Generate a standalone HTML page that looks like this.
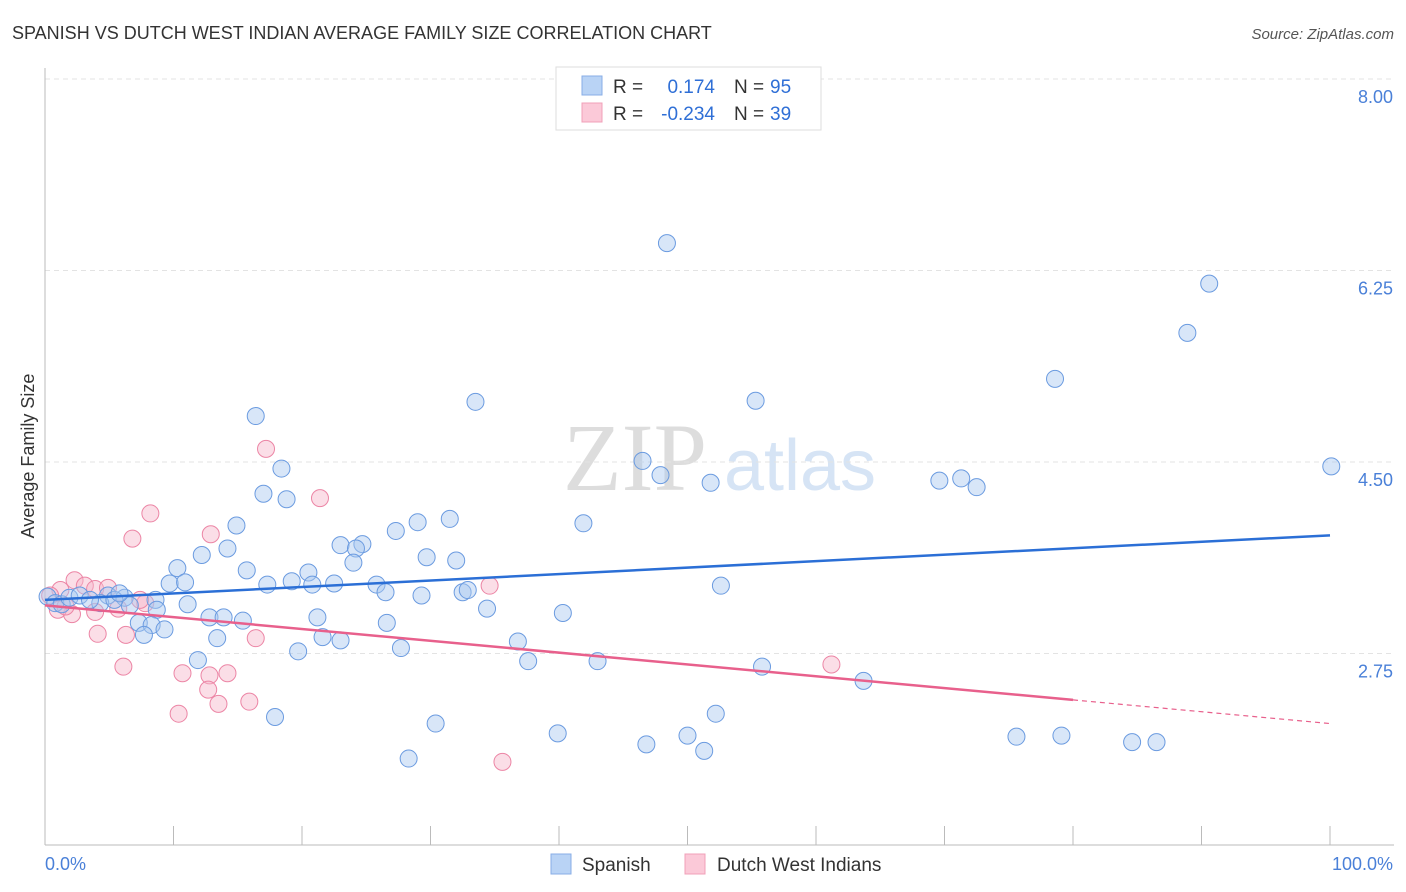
<!DOCTYPE html>
<html><head><meta charset="utf-8"><style>
body{margin:0;background:#fff;font-family:"Liberation Sans",sans-serif;}
svg{display:block}
</style></head><body>
<svg id="chart" width="1406" height="892">
<text x="12" y="39" font-size="18" fill="#333">SPANISH VS DUTCH WEST INDIAN AVERAGE FAMILY SIZE CORRELATION CHART</text>
<text x="1394" y="39" font-size="15" fill="#555" font-style="italic" text-anchor="end">Source: ZipAtlas.com</text>
<text x="34" y="456" font-size="18" fill="#333" text-anchor="middle" transform="rotate(-90 34 456)">Average Family Size</text>
<g><text x="635" y="490" font-size="96" fill="#ddd" font-family="Liberation Serif,serif" text-anchor="middle">ZIP</text><text x="800" y="490" font-size="72" fill="#d6e4f5" text-anchor="middle">atlas</text></g>
<g id="grid"></g><g id="marks"></g>
<g>
<rect x="556" y="67" width="265" height="63" fill="#fff" stroke="#ddd"/>
<rect x="582" y="76" width="20" height="19" fill="#b9d3f5" stroke="#88aee6"/>
<rect x="582" y="103" width="20" height="19" fill="#fbc9d8" stroke="#f0a0b8"/>
<text x="613" y="93" font-size="19" fill="#333">R = </text><text x="715" y="93" font-size="19" fill="#2f6fd6" text-anchor="end">0.174</text>
<text x="734" y="93" font-size="19" fill="#333">N = </text><text x="770" y="93" font-size="19" fill="#2f6fd6">95</text>
<text x="613" y="120" font-size="19" fill="#333">R = </text><text x="715" y="120" font-size="19" fill="#2f6fd6" text-anchor="end">-0.234</text>
<text x="734" y="120" font-size="19" fill="#333">N = </text><text x="770" y="120" font-size="19" fill="#2f6fd6">39</text>
</g>
<g>
<rect x="551" y="854" width="20" height="20" fill="#b9d3f5" stroke="#88aee6"/><text x="582" y="871" font-size="19" fill="#333">Spanish</text>
<rect x="685" y="854" width="20" height="20" fill="#fbc9d8" stroke="#f0a0b8"/><text x="717" y="871" font-size="19" fill="#333">Dutch West Indians</text>
</g>
<text x="45" y="870" font-size="18" fill="#4a80d8">0.0%</text>
<text x="1393" y="870" font-size="18" fill="#4a80d8" text-anchor="end">100.0%</text>
</svg>
<script>
const yTicks=[8.00,6.25,4.50,2.75];
const blueX=[48.4,90.6,88.9,78.6,33.5,55.3,16.4,46.5,100.1,47.9,18.4,51.8,69.6,71.3,72.5,17.0,18.8,14.9,29.0,31.5,41.9,27.3,14.2,12.2,23.0,24.7,24.2,24.0,29.7,32.0,10.3,15.7,20.5,9.7,10.9,17.3,19.2,22.5,20.8,25.8,26.5,29.3,32.5,32.9,52.6,34.4,40.3,4.9,6.2,8.6,11.1,4.3,6.6,8.7,12.8,13.9,15.4,21.2,26.6,7.3,8.3,9.3,7.7,13.4,21.6,23.0,36.8,19.7,27.7,11.9,37.6,43.0,55.8,63.7,17.9,30.4,52.2,39.9,50.0,46.8,51.3,28.3,75.6,79.1,84.6,86.5,0.2,0.8,1.3,1.9,2.7,3.5,5.4,5.8];
const blueY=[6.50,6.13,5.68,5.26,5.05,5.06,4.92,4.51,4.46,4.38,4.44,4.31,4.33,4.35,4.27,4.21,4.16,3.92,3.95,3.98,3.94,3.87,3.71,3.65,3.74,3.75,3.71,3.58,3.63,3.60,3.53,3.51,3.49,3.39,3.40,3.38,3.41,3.39,3.38,3.38,3.31,3.28,3.31,3.33,3.37,3.16,3.12,3.28,3.26,3.24,3.20,3.21,3.19,3.15,3.08,3.08,3.05,3.08,3.03,3.03,3.01,2.97,2.92,2.89,2.90,2.87,2.86,2.77,2.80,2.69,2.68,2.68,2.63,2.50,2.17,2.11,2.20,2.02,2.00,1.92,1.86,1.79,1.99,2.00,1.94,1.94,3.27,3.21,3.20,3.26,3.28,3.24,3.24,3.30];
const pinkX=[17.2,21.4,8.2,6.8,12.9,34.6,2.3,3.1,3.9,4.9,1.2,7.8,5.7,3.9,2.1,1.0,0.4,4.1,6.3,16.4,6.1,10.7,12.8,14.2,12.7,15.9,13.5,10.4,61.2,35.6,1.6,7.4];
const pinkY=[4.62,4.17,4.03,3.80,3.84,3.37,3.42,3.37,3.34,3.35,3.33,3.21,3.16,3.13,3.11,3.15,3.28,2.93,2.92,2.89,2.63,2.57,2.55,2.57,2.42,2.31,2.29,2.20,2.65,1.76,3.18,3.24];
const blueTrend=[3.24,3.83];
const pinkTrend=[3.19,2.11];
const pinkSolidEnd=80;
const NS="http://www.w3.org/2000/svg";
const xs=p=>45+p*12.85, ys=v=>79+(8-v)*109.43;
function mk(tag,attrs,parent){const e=document.createElementNS(NS,tag);for(const k in attrs)e.setAttribute(k,attrs[k]);parent.appendChild(e);return e;}
const grid=document.getElementById('grid'),marks=document.getElementById('marks');
yTicks.forEach(t=>{
 const l=mk('line',{x1:45,x2:1394,y1:ys(t),y2:ys(t),stroke:'#e3e3e3','stroke-dasharray':'5,4'},grid);
 
 
 const tx=mk('text',{x:1393,y:ys(t)+24,'font-size':18,fill:'#4a80d8','text-anchor':'end'},grid);
 tx.textContent=t.toFixed(2);
 
 
});
mk('line',{x1:45,x2:45,y1:68,y2:845,stroke:'#bbb'},grid);
mk('line',{x1:45,x2:1394,y1:845,y2:845,stroke:'#bbb'},grid);
for(let i=0;i<=10;i++){const t=mk('line',{x1:xs(i*10),x2:xs(i*10),y1:826,y2:845,stroke:'#bbb'},grid);
 
 }
function dots(X,Y,fill,stroke,name){X.forEach((x,i)=>{const c=mk('circle',{cx:xs(x),cy:ys(Y[i]),r:8.5,fill:fill,'fill-opacity':0.45,stroke:stroke,'stroke-width':1},marks);
 
 });}
dots(pinkX,pinkY,'#f7b6ca','#ec85a5','dutch-west-indian-point');
dots(blueX,blueY,'#a9c8f0','#6b9be0','spanish-point');
const bl=mk('line',{x1:xs(0),y1:ys(blueTrend[0]),x2:xs(100),y2:ys(blueTrend[1]),stroke:'#2b6fd6','stroke-width':2.5},marks);


const pm=pinkTrend[0]+(pinkTrend[1]-pinkTrend[0])*pinkSolidEnd/100;
const pl=mk('line',{x1:xs(0),y1:ys(pinkTrend[0]),x2:xs(pinkSolidEnd),y2:ys(pm),stroke:'#e8608c','stroke-width':2.5},marks);


const pd=mk('line',{x1:xs(pinkSolidEnd),y1:ys(pm),x2:xs(100),y2:ys(pinkTrend[1]),stroke:'#e8608c','stroke-width':1.2,'stroke-dasharray':'5,4'},marks);


</script>
</body></html>
